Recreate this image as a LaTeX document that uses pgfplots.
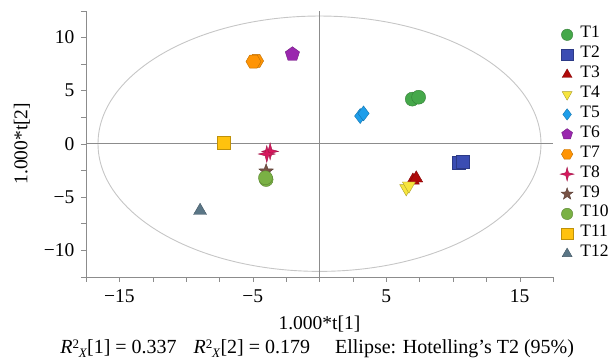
\documentclass[border=0pt]{standalone}
\usepackage{fontspec}
\setmainfont{Liberation Serif}
\usepackage{pgfplots}
\pgfplotsset{compat=1.18}
\usetikzlibrary{plotmarks}

\pgfdeclareplotmark{hexagon*}{%
  \pgfpathmoveto{\pgfqpointpolar{0}{\pgfplotmarksize}}%
  \pgfpathlineto{\pgfqpointpolar{60}{\pgfplotmarksize}}%
  \pgfpathlineto{\pgfqpointpolar{120}{\pgfplotmarksize}}%
  \pgfpathlineto{\pgfqpointpolar{180}{\pgfplotmarksize}}%
  \pgfpathlineto{\pgfqpointpolar{240}{\pgfplotmarksize}}%
  \pgfpathlineto{\pgfqpointpolar{300}{\pgfplotmarksize}}%
  \pgfpathclose\pgfusepathqfillstroke}
\pgfdeclareplotmark{fourstar*}{%
  \pgfpathmoveto{\pgfqpointpolar{90}{1.2\pgfplotmarksize}}%
  \pgfpathlineto{\pgfqpointpolar{135}{0.35\pgfplotmarksize}}%
  \pgfpathlineto{\pgfqpointpolar{180}{1.2\pgfplotmarksize}}%
  \pgfpathlineto{\pgfqpointpolar{225}{0.35\pgfplotmarksize}}%
  \pgfpathlineto{\pgfqpointpolar{270}{1.2\pgfplotmarksize}}%
  \pgfpathlineto{\pgfqpointpolar{315}{0.35\pgfplotmarksize}}%
  \pgfpathlineto{\pgfqpointpolar{0}{1.2\pgfplotmarksize}}%
  \pgfpathlineto{\pgfqpointpolar{45}{0.35\pgfplotmarksize}}%
  \pgfpathclose\pgfusepathqfillstroke}
\pgfdeclareplotmark{fivestar*}{%
  \pgfpathmoveto{\pgfqpointpolar{90}{1.1\pgfplotmarksize}}%
  \pgfpathlineto{\pgfqpointpolar{126}{0.45\pgfplotmarksize}}%
  \pgfpathlineto{\pgfqpointpolar{162}{1.1\pgfplotmarksize}}%
  \pgfpathlineto{\pgfqpointpolar{198}{0.45\pgfplotmarksize}}%
  \pgfpathlineto{\pgfqpointpolar{234}{1.1\pgfplotmarksize}}%
  \pgfpathlineto{\pgfqpointpolar{270}{0.45\pgfplotmarksize}}%
  \pgfpathlineto{\pgfqpointpolar{306}{1.1\pgfplotmarksize}}%
  \pgfpathlineto{\pgfqpointpolar{342}{0.45\pgfplotmarksize}}%
  \pgfpathlineto{\pgfqpointpolar{18}{1.1\pgfplotmarksize}}%
  \pgfpathlineto{\pgfqpointpolar{54}{0.45\pgfplotmarksize}}%
  \pgfpathclose\pgfusepathqfillstroke}

\definecolor{cT1}{HTML}{45A84A}
\definecolor{cT2}{HTML}{3B4DB3}
\definecolor{cT3}{HTML}{B00A0A}
\definecolor{cT4}{HTML}{F7E53E}
\definecolor{cT5}{HTML}{1E9EEA}
\definecolor{cT6}{HTML}{9A27AE}
\definecolor{cT7}{HTML}{FF9404}
\definecolor{cT8}{HTML}{D6195E}
\definecolor{cT9}{HTML}{785346}
\definecolor{cT10}{HTML}{7AB144}
\definecolor{cT11}{HTML}{FFC20E}
\definecolor{cT12}{HTML}{5A7686}
\definecolor{axgray}{HTML}{8C8C8C}

\newcommand{\RX}{\textit{R}\raisebox{0.6ex}{\fontsize{13}{14}\selectfont 2}\kern-0.3pt\raisebox{-0.4ex}{\fontsize{13}{14}\selectfont\textit{X}}}

\begin{document}
\begin{tikzpicture}
\begin{axis}[
  name=ax,
  scale only axis, width=467pt, height=266pt,
  xmin=-17.5, xmax=17.5, ymin=-12.5, ymax=12.5,
  axis lines=left,
  axis line style={-, draw=axgray},
  tick align=outside,
  tick style={draw=axgray},
  major tick length=5pt, minor tick length=5pt,
  xtick={-15,-5,5,15},
  xticklabels={−15,−5,5,15},
  minor xtick={-17.5,-12.5,-10,-7.5,-2.5,0,2.5,7.5,10,12.5,17.5},
  ytick={-10,-5,0,5,10},
  yticklabels={−10,−5,0,5,10},
  minor ytick={-12.5,-7.5,-2.5,2.5,7.5,12.5},
  font=\fontsize{19.5}{22}\selectfont,
  xticklabel style={font=\fontsize{19.5}{22}\selectfont, yshift=-4pt},
  yticklabel style={font=\fontsize{19.5}{22}\selectfont, xshift=-3pt},
  xlabel={1.000*t[1]},
  ylabel={1.000*t[2]},
  xlabel style={at={(axis description cs:0.5,-0.178)}, anchor=center},
  ylabel style={at={(axis description cs:-0.137,0.5)}, anchor=center},
  clip=false,
  legend style={at={(axis description cs:1.008,0.955)}, anchor=north west,
    draw=none, fill=none, row sep=0pt,
    nodes={inner sep=1pt, text height=12pt, text depth=5.9pt, anchor=west},
    font=\fontsize{17.5}{20}\selectfont},
  legend cell align=left,
  legend image code/.code={\path (-7pt,0) (12pt,0); \draw[#1, only marks, mark size=5.7pt] plot coordinates {(0pt,0pt)};},
]
\draw[color=gray!45, line width=0.9pt] (axis cs:0,0) ellipse [x radius=16.6, y radius=12.0];
\draw[color=axgray, line width=0.7pt] (axis cs:0,-12.5) -- (axis cs:0,12.5);
\draw[color=axgray, line width=0.7pt] (axis cs:-17.5,0) -- (axis cs:17.5,0);

\addplot[only marks, mark=*, mark size=7pt, draw=cT1!75!black, fill=cT1] coordinates {(6.95,4.19) (7.43,4.37)};
\addlegendentry{T1}
\addplot[only marks, mark=square*, mark size=6.5pt, draw=cT2!75!black, fill=cT2] coordinates {(10.43,-1.75) (10.76,-1.69)};
\addlegendentry{T2}
\addplot[only marks, mark=triangle*, mark size=7.5pt, draw=cT3!75!black, fill=cT3] coordinates {(7.0,-3.45) (7.25,-3.25)};
\addlegendentry{T3}
\addplot[only marks, mark=triangle*, mark size=7.5pt, mark options={rotate=180}, draw=cT4!70!black, fill=cT4] coordinates {(6.5,-4.2) (6.7,-3.95)};
\addlegendentry{T4}
\addplot[only marks, mark=diamond*, mark size=7.5pt, draw=cT5!75!black, fill=cT5] coordinates {(3.05,2.6) (3.3,2.85)};
\addlegendentry{T5}
\addplot[only marks, mark=pentagon*, mark size=7.5pt, draw=cT6!75!black, fill=cT6] coordinates {(-2.03,8.41)};
\addlegendentry{T6}
\addplot[only marks, mark=hexagon*, mark size=7.5pt, draw=cT7!75!black, fill=cT7] coordinates {(-4.75,7.78) (-4.95,7.72)};
\addlegendentry{T7}
\addplot[only marks, mark=fourstar*, mark size=7pt, draw=cT8!75!black, fill=cT8] coordinates {(-3.7,-0.72) (-3.95,-0.97)};
\addlegendentry{T8}
\addplot[only marks, mark=fivestar*, mark size=7pt, draw=cT9!75!black, fill=cT9] coordinates {(-4.0,-2.6)};
\addlegendentry{T9}
\addplot[only marks, mark=*, mark size=7pt, draw=cT10!75!black, fill=cT10] coordinates {(-4.0,-3.37) (-4.05,-3.2)};
\addlegendentry{T10}
\addplot[only marks, mark=square*, mark size=6.5pt, draw=cT11!75!black, fill=cT11] coordinates {(-7.2,0.06)};
\addlegendentry{T11}
\addplot[only marks, mark=triangle*, mark size=7.5pt, draw=cT12!75!black, fill=cT12] coordinates {(-8.95,-6.3)};
\addlegendentry{T12}
\node[anchor=center, font=\fontsize{20}{22}\selectfont] at (axis description cs:0.495,-0.272)
  {\RX[1] = 0.337\hspace*{17pt}\RX[2] = 0.179\hspace*{25pt}Ellipse: Hotelling’s T2 (95\%)};
\end{axis}
\pgfresetboundingbox
\path[use as bounding box] ([shift={(-86pt,-85.3pt)}]ax.south west) rectangle ([shift={(530pt,276.7pt)}]ax.south west);
\end{tikzpicture}
\end{document}
